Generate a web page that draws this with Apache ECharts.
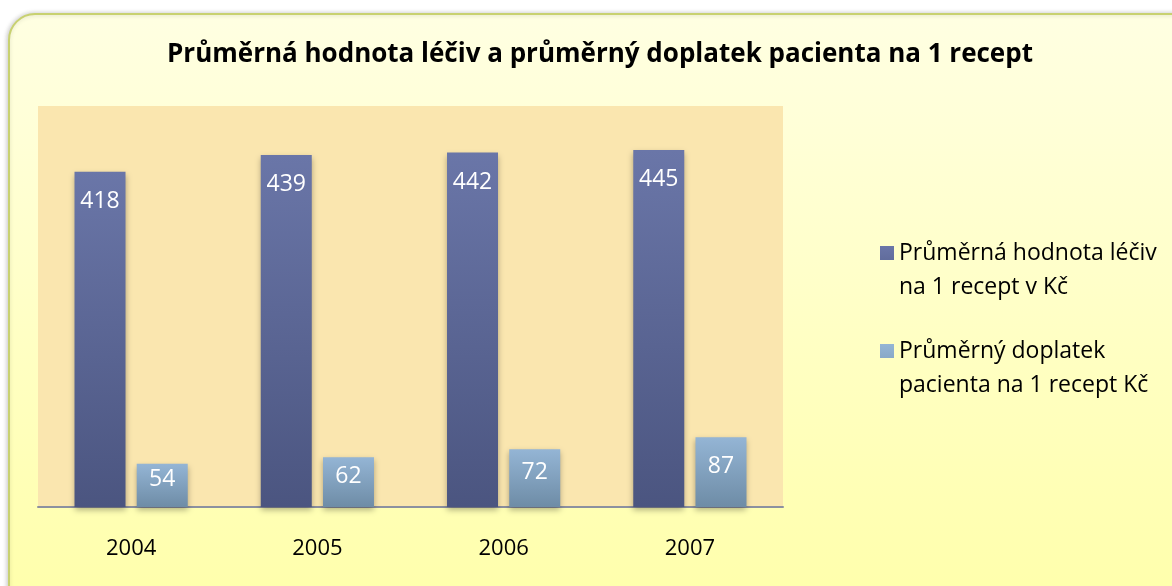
<!DOCTYPE html>
<html>
<head>
  <meta charset="utf-8">
  <title>Průměrná hodnota léčiv</title>
  <script src="https://cdn.jsdelivr.net/npm/echarts@6/dist/echarts.min.js"></script>
  <style>
    body { margin: 0; padding: 0; background: #fff; }
    #main { width: 1172px; height: 586px; }
  </style>
</head>
<body>
  <div id="main"></div>
  <script type="text/javascript">
    var years = ['2004', '2005', '2006', '2007'];
    var hodnota = [418, 439, 442, 445];
    var doplatek = [54, 62, 72, 87];
    var names = ['Průměrná hodnota léčiv na 1 recept v Kč', 'Průměrný doplatek pacienta na 1 recept Kč'];
    var legendText = ['Průměrná hodnota léčiv\nna 1 recept v Kč', 'Průměrný doplatek\npacienta na 1 recept Kč'];

    var font = '"Open Sans", Lato, sans-serif';
    var darkGrad = new echarts.graphic.LinearGradient(0, 0, 0, 1, [
      { offset: 0, color: '#6a76a8' }, { offset: 1, color: '#4b5580' }
    ]);
    var lightGrad = new echarts.graphic.LinearGradient(0, 0, 0, 1, [
      { offset: 0, color: '#94b5d5' }, { offset: 1, color: '#6e8ca6' }
    ]);
    // square at the top, tiny extra point so the icon sits on the first text line
    var icon = 'path://M0,0L14,0L14,14L0,14Z M0,48L0.01,48';

    var chart = echarts.init(document.getElementById('main'));
    chart.setOption({
      animation: false,
      graphic: [{
        type: 'rect',
        z: -10,
        shape: { x: 9, y: 14, width: 1200, height: 620, r: 26 },
        style: {
          fill: new echarts.graphic.LinearGradient(0, 0, 0, 1, [
            { offset: 0, color: '#ffffe2' }, { offset: 1, color: '#ffffa8' }
          ]),
          stroke: '#c8d170',
          lineWidth: 2,
          shadowBlur: 5,
          shadowColor: 'rgba(0,0,0,0.2)',
          shadowOffsetX: -1
        }
      }],
      title: {
        text: 'Průměrná hodnota léčiv a průměrný doplatek pacienta na 1 recept',
        left: 595,
        textAlign: 'center',
        top: 37,
        textStyle: { fontFamily: font, fontSize: 26, fontWeight: 'bold', color: '#000' }
      },
      legend: {
        orient: 'vertical',
        left: 875,
        top: 231,
        itemGap: 30,
        itemWidth: 14,
        itemHeight: 48,
        data: [
          { name: names[0], icon: icon, itemStyle: { color: darkGrad } },
          { name: names[1], icon: icon, itemStyle: { color: lightGrad } }
        ],
        formatter: function (n) { return legendText[names.indexOf(n)]; },
        textStyle: { fontFamily: font, fontSize: 23, lineHeight: 34, color: '#000' }
      },
      grid: {
        left: 38, right: 389, top: 106, bottom: 79,
        show: true, backgroundColor: '#fae6af', borderWidth: 0
      },
      xAxis: {
        type: 'category',
        data: years,
        axisLine: { lineStyle: { color: '#8c90a0', width: 2 } },
        axisTick: { show: false },
        axisLabel: { fontFamily: font, fontSize: 22, color: '#000', margin: 31 }
      },
      yAxis: {
        type: 'value', min: 0, max: 500,
        show: false,
        splitLine: { show: false }
      },
      series: [{
        name: names[0],
        type: 'bar',
        data: hodnota,
        barWidth: 51,
        barGap: '22%',
        itemStyle: {
          color: darkGrad,
          shadowBlur: 6, shadowColor: 'rgba(0,0,0,0.3)', shadowOffsetY: 3
        },
        label: {
          show: true, position: 'insideTop', distance: 18,
          color: '#fff', fontFamily: font, fontSize: 23
        }
      }, {
        name: names[1],
        type: 'bar',
        data: doplatek,
        barWidth: 51,
        itemStyle: {
          color: lightGrad,
          shadowBlur: 6, shadowColor: 'rgba(0,0,0,0.3)', shadowOffsetY: 3
        },
        label: {
          show: true, position: 'inside', offset: [0, -6],
          color: '#fff', fontFamily: font, fontSize: 23
        }
      }]
    });
  </script>
</body>
</html>
